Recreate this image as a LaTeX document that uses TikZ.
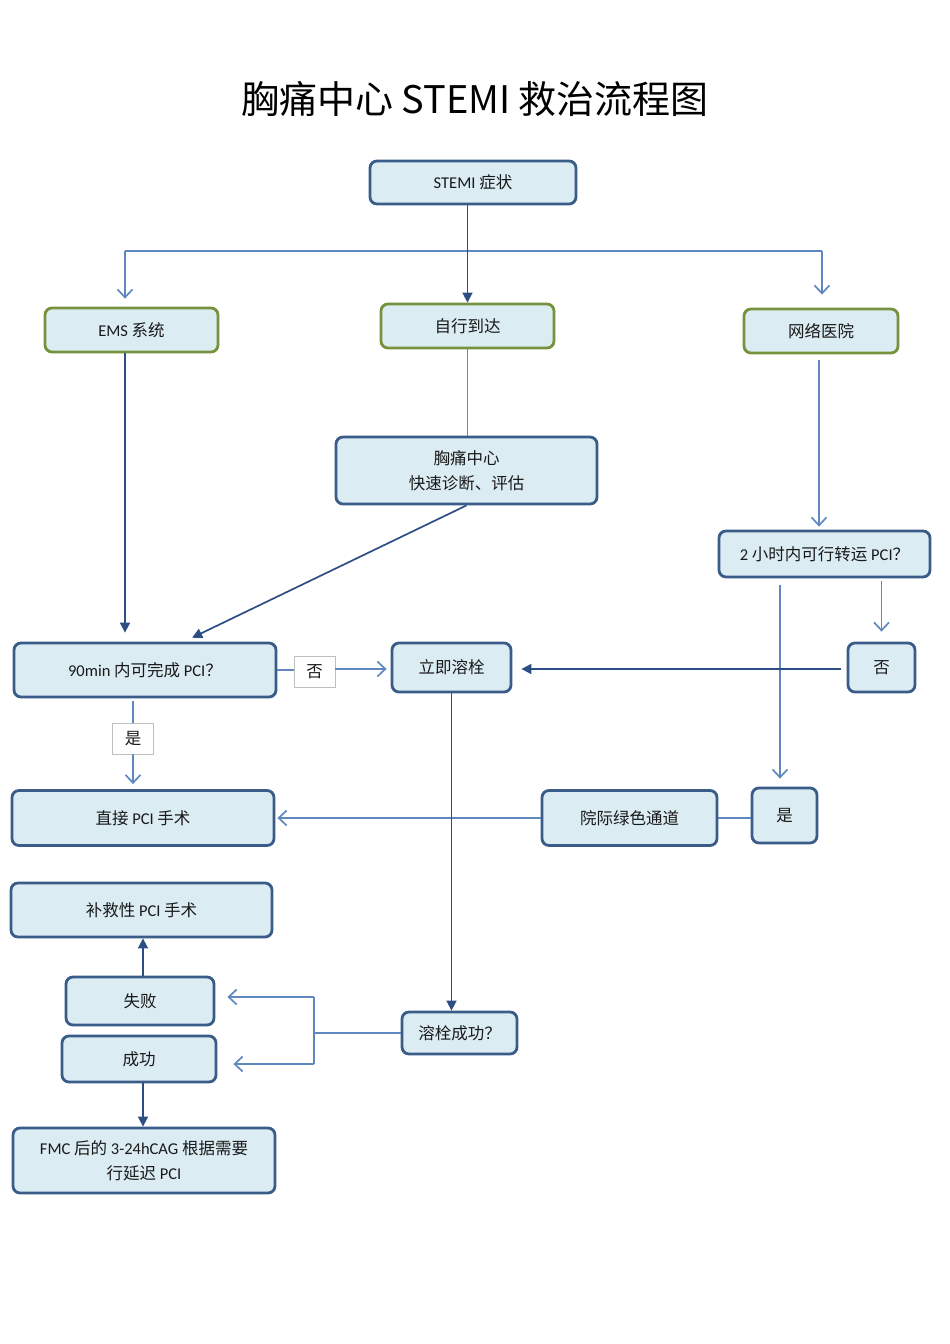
\documentclass[tikz,border=0pt]{standalone}
\usepackage{fontspec}
\setmainfont{Carlito}
\newfontfamily\cjk{Noto Sans CJK SC}
\usetikzlibrary{arrows.meta,calc}
\definecolor{bxblue}{RGB}{58,92,136}
\definecolor{bxgreen}{RGB}{118,146,60}
\definecolor{bxfill}{RGB}{219,236,243}
\definecolor{lndark}{RGB}{44,78,132}
\definecolor{lnlight}{RGB}{96,136,192}
\definecolor{txt}{RGB}{25,25,25}
\newcommand\myfont{\fontsize{16.5}{25}\selectfont}
\newcommand\zh[1]{{\cjk #1}}
\tikzset{
  box/.style={draw=bxblue, fill=bxfill, line width=2.8pt, rounded corners=7pt, inner sep=2pt, align=center, font=\myfont, text=txt},
  gbox/.style={box, draw=bxgreen},
  lab/.style={draw=black!25, fill=white, line width=0.6pt, minimum width=41pt, minimum height=31pt, font=\myfont, text=txt, inner sep=0pt},
  lnd/.style={draw=lndark, line width=1.7pt, -{Triangle[length=10pt,width=10pt]}},
  lnl/.style={draw=lnlight, line width=1.7pt},
  lnla/.style={lnl, -{Straight Barb[length=8pt,width=15pt,line width=1.7pt]}},
}
\begin{document}
\begin{tikzpicture}[x=1pt,y=-1pt]
\path[use as bounding box] (0,0) rectangle (950,1344);

\node[font=\cjk\fontsize{38}{40}\selectfont, text=black] (title) at (475,99) {胸痛中心 STEMI 救治流程图};

\node[box, minimum width=206pt, minimum height=43pt] (top) at (473,182.5) {STEMI \zh{症状}};
\node[gbox, minimum width=173pt, minimum height=44pt] (ems) at (131.5,330) {EMS \zh{系统}};
\node[gbox, minimum width=173pt, minimum height=44pt] (self) at (467.5,326) {\zh{自行到达}};
\node[gbox, minimum width=154pt, minimum height=44pt] (net) at (821,331) {\zh{网络医院}};
\node[box, minimum width=261pt, minimum height=67pt] (cpc) at (466.5,470.5) {\zh{胸痛中心}\\\zh{快速诊断、评估}};
\node[box, minimum width=211pt, minimum height=46pt] (two) at (824.5,554) {2 \zh{小时内可行转运} PCI\zh{？}};
\node[box, minimum width=262pt, minimum height=54pt] (q90) at (145,670) {90min \zh{内可完成} PCI\zh{？}};
\node[box, minimum width=119pt, minimum height=49pt] (lysis) at (451.5,667.5) {\zh{立即溶栓}};
\node[box, minimum width=67pt, minimum height=49pt] (no2) at (881.5,667.5) {\zh{否}};
\node[box, minimum width=262pt, minimum height=55pt] (dpci) at (143,818) {\zh{直接} PCI \zh{手术}};
\node[box, minimum width=175pt, minimum height=55pt] (green) at (629.5,818) {\zh{院际绿色通道}};
\node[box, minimum width=65pt, minimum height=55pt] (yes2) at (784.5,815.5) {\zh{是}};
\node[box, minimum width=261pt, minimum height=54pt] (rescue) at (141.5,910) {\zh{补救性} PCI \zh{手术}};
\node[box, minimum width=148pt, minimum height=48pt] (fail) at (140,1001) {\zh{失败}};
\node[box, minimum width=154pt, minimum height=46pt] (succ) at (139,1059) {\zh{成功}};
\node[box, minimum width=262pt, minimum height=65pt] (fmc) at (144,1160.5) {FMC \zh{后的} 3-24hCAG \zh{根据需要}\\\zh{行延迟} PCI};
\node[box, minimum width=115pt, minimum height=42pt] (lyq) at (459.5,1033) {\zh{溶栓成功？}};
\node[lab] (noL) at (314.5,672) {\zh{否}};
\node[lab] (yesL) at (133,738.5) {\zh{是}};

% top branching
\coordinate (bL) at (125,251);
\coordinate (bR) at (822,251);
\draw[lnl] (bL) -- (bR);
\draw[lnla, shorten >=8pt] (bL) -- (bL |- ems.north);
\draw[lnla, shorten >=13pt] (bR) -- (bR |- net.north);
\draw[lnd] (self.north |- top.south) -- (self.north);

% left column
\draw[lnd, shorten >=9pt] (bL |- ems.south) -- (bL |- q90.north);
\draw[lnl] (self.south) -- (self.south |- cpc.north);
\draw[lnd, shorten >=9pt] (cpc.south) -- ($(q90.north)+(39,0)$);

% right column
\draw[lnla, shorten <=6pt, shorten >=3pt] ($(net.south)+(-2,0)$) -- ($(two.north)+(-5.5,0)$);
\draw[lnla, shorten <=3pt, shorten >=10pt] (two.south -| no2.north) -- (no2.north);
\draw[lnla, shorten <=7pt, shorten >=8pt] ($(two.south)+(-44.5,0)$) -- ($(yes2.north)+(-4.5,0)$);
\draw[lnd, shorten <=6pt, shorten >=9pt] (no2.west |- 0,669) -- (lysis.east |- 0,669);

% middle
\draw[lnl] (q90.east) -- (noL.west |- q90.east);
\draw[lnla, shorten >=4pt] (noL.east |- 0,669) -- (lysis.west |- 0,669);
\draw[lnl, shorten <=3pt] (yesL.north |- q90.south) -- (yesL.north);
\draw[lnla, shorten >=5pt] (yesL.south) -- (yesL.south |- dpci.north);
\draw[lnla, shorten >=2pt] (green.west) -- (dpci.east |- green.west);
\draw[lnl] (yes2.west |- green.east) -- (green.east);
\draw[lnd] (lysis.south) -- (lysis.south |- lyq.north);

% lower
\coordinate (bx) at (314,1033);
\coordinate (bt) at (314,997);
\coordinate (bb) at (314,1064);
\draw[lnl] (lyq.west) -- (bx);
\draw[lnl] (bt) -- (bb);
\draw[lnla, shorten >=12pt] (bt) -- (fail.east |- bt);
\draw[lnla, shorten >=16pt] (bb) -- (succ.east |- bb);
\draw[lnd] (fail.north -| 143,0) -- (rescue.south -| 143,0);
\draw[lnd] (succ.south -| 143,0) -- (fmc.north -| 143,0);
\end{tikzpicture}
\end{document}
